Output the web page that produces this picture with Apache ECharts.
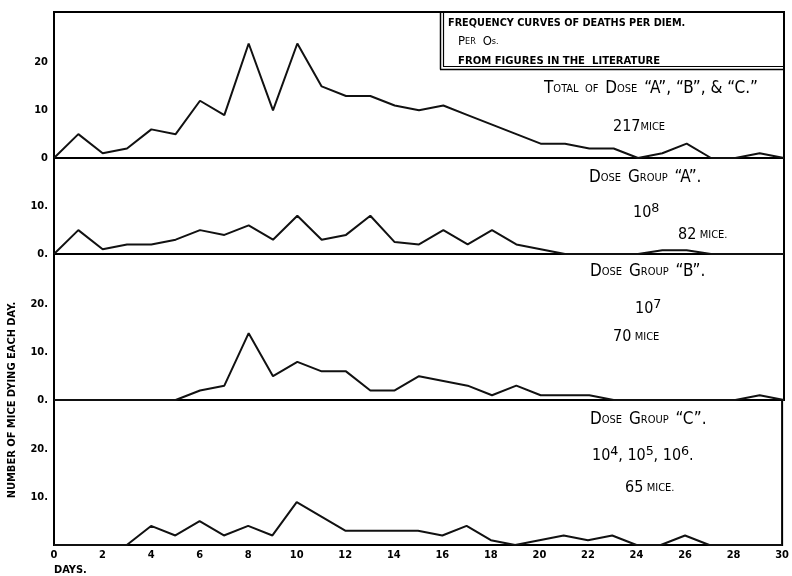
<!DOCTYPE html>
<html>
<head>
<meta charset="utf-8">
<script src="https://cdn.jsdelivr.net/npm/echarts@6/dist/echarts.min.js"></script>
<style>html,body{margin:0;padding:0;background:#fff;}#c{width:792px;height:576px;}</style>
</head>
<body>
<div id="c"></div>
<script>
// ---- data ----
const days = [0,1,2,3,4,5,6,7,8,9,10,11,12,13,14,15,16,17,18,19,20,21,22,23,24,25,26,27,28,29,30];
const totalABC = [0,5,1,2,6,5,12,9,24,10,24,15,13,13,11,10,11,9,7,5,3,3,2,2,0,1,3,0,0,1,0];
const groupA   = [0,5,1,2,2,3,5,4,6,3,8,3,4,8,2.5,2,5,2,5,2,1,0,0,0,0,0.8,0.8,0,0,0,0];
const groupB   = [0,0,0,0,0,0,2,3,14,5,8,6,6,2,2,5,4,3,1,3,1,1,1,0,0,0,0,0,0,1,0];
const groupC   = [0,0,0,0,4,2,5,2,4,2,9,6,3,3,3,3,2,4,1,0,1,2,1,2,0,0,2,0,0,0,0];
const xTicks = [0,2,4,6,8,10,12,14,16,18,20,22,24,26,28,30];
const panelTickLabels = [
  {0:'0', 10:'10', 20:'20'},
  {0:'0.', 10:'10.'},
  {0:'0.', 10:'10.', 20:'20.'},
  {10:'10.', 20:'20.'}
];
const panelSeries = [totalABC, groupA, groupB, groupC];
const panelNames = ['Total of Dose A, B & C', 'Dose Group A', 'Dose Group B', 'Dose Group C'];

const FONT = '"DejaVu Sans Condensed", "Liberation Sans Narrow", "Liberation Sans", sans-serif';
const HAND = '"DejaVu Sans Condensed", "Liberation Sans Narrow", "Liberation Sans", sans-serif';

const grids = [
  {top: 12, height: 146, max: 30.6},
  {top: 158, height: 96, max: 20.1},
  {top: 254, height: 146, max: 30.6},
  {top: 400, height: 145, max: 30.4}
];

const chart = echarts.init(document.getElementById('c'), null, {renderer: 'canvas'});

const option = {
  backgroundColor: '#fff',
  animation: false,
  grid: grids.map(g => ({left: 54, right: 8, top: g.top, height: g.height, show: true,
    borderColor: '#000', borderWidth: 2, backgroundColor: 'transparent'})),
  xAxis: grids.map((g, i) => ({
    type: 'value', gridIndex: i, min: 0, max: 30, interval: 2,
    axisLine: {show: false}, axisTick: {show: false}, splitLine: {show: false},
    axisLabel: {show: i === 3, color: '#000', fontFamily: FONT, fontWeight: 'bold', fontSize: 11, margin: 5,
      formatter: v => (xTicks.indexOf(v) >= 0 ? String(v) : '')}
  })),
  yAxis: grids.map((g, i) => ({
    type: 'value', gridIndex: i, min: 0, max: g.max, interval: 10,
    axisLine: {show: false}, axisTick: {show: false}, splitLine: {show: false},
    axisLabel: {color: '#000', fontFamily: FONT, fontWeight: 'bold', fontSize: 11, margin: 6,
      showMaxLabel: false,
      formatter: v => (panelTickLabels[i][v] !== undefined ? panelTickLabels[i][v] : '')}
  })),
  series: panelSeries.map((vals, i) => ({
    type: 'line', name: panelNames[i], xAxisIndex: i, yAxisIndex: i,
    data: days.map((d, k) => [d, vals[k]]),
    showSymbol: false, symbol: 'none', clip: false,
    lineStyle: {color: '#111', width: 2},
    z: 3
  })),
  graphic: []
};

const rich = {
  b: {fontFamily: HAND, fontSize: 17, color: '#000'},
  m: {fontFamily: HAND, fontSize: 13, color: '#000'},
  s: {fontFamily: HAND, fontSize: 11, color: '#000'},
  t: {fontFamily: HAND, fontSize: 9, color: '#000'},
  n: {fontFamily: HAND, fontSize: 16, color: '#000'},
  p: {fontFamily: HAND, fontSize: 22, color: '#000'}
};
function txt(x, y, text, style) {
  return {type: 'text', x: x, y: y, z: 10, silent: true,
    style: Object.assign({text: text, fill: '#000', align: 'left', verticalAlign: 'middle', fontFamily: HAND}, style)};
}
function rtxt(x, y, text) {
  return {type: 'text', x: x, y: y, z: 10, silent: true,
    style: {text: text, rich: rich, fill: '#000', align: 'left', verticalAlign: 'middle', fontFamily: HAND}};
}
function line(x1, y1, x2, y2, w) {
  return {type: 'line', z: 9, silent: true, shape: {x1: x1, y1: y1, x2: x2, y2: y2},
    style: {stroke: '#000', lineWidth: w || 1.5}};
}

const G = option.graphic;
// title box (double lines left and bottom)
G.push(line(440.5, 12, 440.5, 69.5, 1.5));
G.push(line(443.5, 12, 443.5, 66.5, 1.2));
G.push(line(440, 69.5, 784, 69.5, 1.5));
G.push(line(443, 66.5, 784, 66.5, 1.2));
G.push(txt(448, 23, 'FREQUENCY CURVES OF DEATHS PER DIEM.', {fontSize: 10.8, fontWeight: 'bold', fontFamily: FONT}));
G.push(rtxt(458, 42, '{m|P}{t|ER}  {m|O}{t|s.}'));
G.push(txt(458, 61, 'FROM FIGURES IN THE  LITERATURE', {fontSize: 11.2, fontWeight: 'bold', fontFamily: FONT}));

// panel annotations
G.push(rtxt(544, 89, '{b|T}{s|OTAL  OF}  {b|D}{s|OSE}  {b|“A”, “B”, & “C.”}'));
G.push(rtxt(613, 127, '{n|217}{s|MICE}'));

G.push(rtxt(589, 178, '{b|D}{s|OSE}  {b|G}{s|ROUP}  {b|“A”.}'));
G.push(rtxt(633, 213, '{n|10}{p|⁸}'));
G.push(rtxt(678, 235, '{n|82} {s|MICE.}'));

G.push(rtxt(590, 272, '{b|D}{s|OSE}  {b|G}{s|ROUP}  {b|“B”.}'));
G.push(rtxt(635, 309, '{n|10}{p|⁷}'));
G.push(rtxt(613, 337, '{n|70} {s|MICE}'));

G.push(rtxt(590, 420, '{b|D}{s|OSE}  {b|G}{s|ROUP}  {b|“C”.}'));
G.push(rtxt(592, 456, '{n|10}{p|⁴}{n|, 10}{p|⁵}{n|, 10}{p|⁶}{n|.}'));
G.push(rtxt(625, 488, '{n|65} {s|MICE.}'));

// axis titles
G.push({type: 'text', x: 12, y: 400, rotation: Math.PI / 2, z: 10, silent: true,
  style: {text: 'NUMBER OF MICE DYING EACH DAY.', fill: '#000', fontFamily: FONT, fontWeight: 'bold', fontSize: 11,
    align: 'center', verticalAlign: 'middle'}});
G.push(txt(54, 570, 'DAYS.', {fontSize: 11, fontWeight: 'bold', fontFamily: FONT}));

chart.setOption(option);
</script>
</body>
</html>
